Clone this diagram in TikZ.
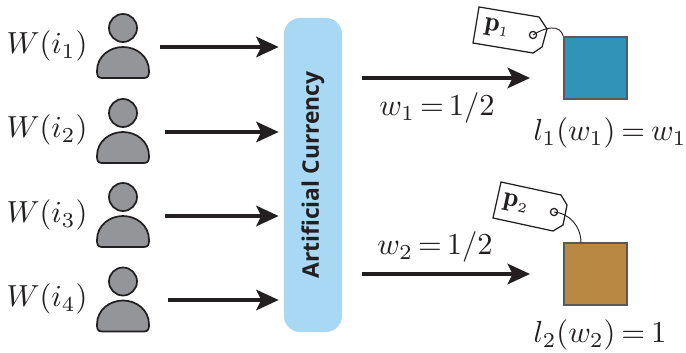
\documentclass[tikz,border=0pt]{standalone}
\usepackage{fontspec}
\newfontfamily\labelfont{Open Sans}
\usetikzlibrary{arrows.meta}
\definecolor{ink}{HTML}{231F20}
\definecolor{persongray}{HTML}{939598}
\definecolor{currency}{HTML}{A8D8F3}
\definecolor{bluebox}{HTML}{3193B8}
\definecolor{brownbox}{HTML}{B98944}
\definecolor{edgegray}{HTML}{58595B}
\tikzset{
  flow/.style={draw=ink,line width=1pt,-{Stealth[length=7.2pt,width=6.6pt,inset=1.6pt]}},
  personpart/.style={draw=ink,fill=persongray,line width=.55pt},
  pricetag/.style={draw=ink,fill=white,line width=.4pt},
  tagstring/.style={draw=ink,line width=.3pt},
  resource/.style={draw=edgegray,line width=.7pt,minimum width=20pt,minimum height=19.8pt,inner sep=0pt},
  lab/.style={inner sep=0pt,text=ink,scale=.975},
  taglab/.style={inner sep=0pt,text=ink,scale=.88},
  pics/person/.style={code={
    \draw[personpart] (0,-19) circle (14);
    \draw[personpart] (-21,31) .. controls (-25.5,31) and (-26,28) .. (-26,24)
      .. controls (-26,9) and (-13,0) .. (0,0)
      .. controls (13,0) and (26,9) .. (26,24)
      .. controls (26,28) and (25.5,31) .. (21,31) -- cycle;
  }}
}
\begin{document}
\begin{tikzpicture}[x=0.32pt,y=-0.32pt]
\useasboundingbox (0,0) rectangle (686,352);
% central box
\node[draw=none,fill=currency,rounded corners=5.2pt,minimum width=18.6pt,minimum height=100.5pt,inner sep=0pt] (cur) at (313,175) {};
\node[inner sep=0pt,text=ink,rotate=90] (curlabel) at (313,175) {\labelfont\fontsize{7.3}{9}\selectfont\bfseries Artificial Currency};
% persons and their labels
\pic at (123,47) {person};
\pic at (123,132) {person};
\pic at (123,216) {person};
\pic at (123,300.5) {person};
\node[lab] (w1) at (47,46) {$W(i_1)$};
\node[lab] (w2) at (47,130) {$W(i_2)$};
\node[lab] (w3) at (47,215) {$W(i_3)$};
\node[lab] (w4) at (47,299) {$W(i_4)$};
% incoming arrows
\coordinate (s1) at (160,47);
\coordinate (s2) at (165,132);
\coordinate (s3) at (165,216);
\coordinate (s4) at (168,300);
\draw[flow,shorten >=1.5pt] (s1) -- (s1 -| cur.west);
\draw[flow,shorten >=1.5pt] (s2) -- (s2 -| cur.west);
\draw[flow,shorten >=1.5pt] (s3) -- (s3 -| cur.west);
\draw[flow,shorten >=1.5pt] (s4) -- (s4 -| cur.west);
% resources
\node[resource,fill=bluebox] (r1) at (595.5,68) {};
\node[resource,fill=brownbox] (r2) at (595.5,274) {};
% outgoing arrows
\coordinate (o1) at (362,78);
\coordinate (e1) at (530,78);
\coordinate (o2) at (362,274);
\coordinate (e2) at (530,274);
\draw[flow] (o1) -- (e1);
\draw[flow] (o2) -- (e2);
\node[lab] (f1) at (437,108) {$\thickmuskip=3mu w_1=1/2$};
\node[lab] (f2) at (435,247) {$\thickmuskip=3mu w_2=1/2$};
\node[lab] (c1) at (610,133) {$\thickmuskip=3.5mu l_1(w_1)=w_1$};
\node[lab] (c2) at (600,335) {$\thickmuskip=3.5mu l_2(w_2)=1$};
% price tags
\draw[pricetag] (479,7) -- (539,17) -- (547,29) -- (542,47) -- (533,53) -- (473,43) -- cycle;
\draw[pricetag] (533,35) circle (3.6);
\coordinate (h1) at (533,35);
\draw[tagstring] (h1) .. controls (545,27) and (560,24) .. (r1.north west);
\node[taglab,rotate=-10] (p1) at (497,28) {$\mathbf{p}_{\scriptscriptstyle 1}$};
\draw[pricetag] (501,182) -- (561,195) -- (567,205) -- (563,225) -- (553,231) -- (493,218) -- cycle;
\draw[pricetag] (554,212) circle (3.6);
\coordinate (h2) at (554,212);
\draw[tagstring] (h2) .. controls (568,213) and (581,225) .. (581,243);
\node[taglab,rotate=-12] (p2) at (516,204) {$\mathbf{p}_{\scriptscriptstyle 2}$};
\end{tikzpicture}
\end{document}
